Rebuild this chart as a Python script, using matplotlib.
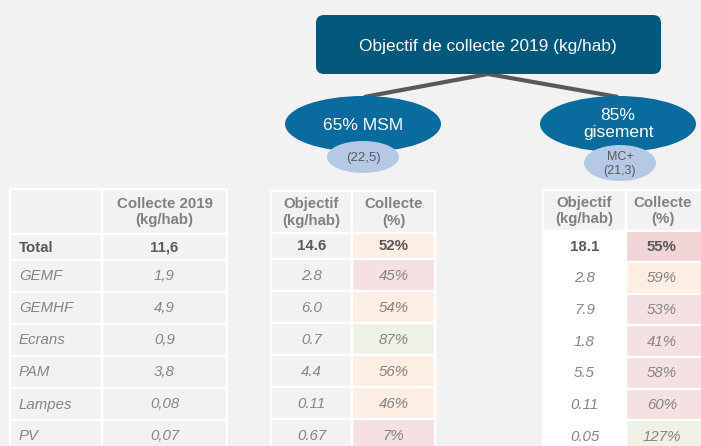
import matplotlib.pyplot as plt
from matplotlib.patches import Rectangle, Ellipse, FancyBboxPatch

# ============================================================
# Data
# ============================================================
categories = ["Total", "GEMF", "GEMHF", "Ecrans", "PAM", "Lampes", "PV"]
collecte_2019 = ["11,6", "1,9", "4,9", "0,9", "3,8", "0,08", "0,07"]

msm_objectif = ["14.6", "2.8", "6.0", "0.7", "4.4", "0.11", "0.67"]
msm_collecte = ["52%", "45%", "54%", "87%", "56%", "46%", "7%"]
msm_status = ["mid", "low", "mid", "ok", "mid", "mid", "low"]

gis_objectif = ["18.1", "2.8", "7.9", "1.8", "5.5", "0.11", "0.05"]
gis_collecte = ["55%", "59%", "53%", "41%", "58%", "60%", "127%"]
gis_status = ["bad", "mid", "low", "low", "low", "low", "ok"]

title = "Objectif de collecte 2019 (kg/hab)"
branch_msm = ("65% MSM", "(22,5)")
branch_gis = ("85%\ngisement", "MC+\n(21,3)")

# ============================================================
# Styles
# ============================================================
bg = "#f2f2f2"
status_colors = {"mid": "#fdeee3", "low": "#f5e1e1", "ok": "#eef2e6", "bad": "#efd5d5"}
txt_bold = "#595959"
txt_body = "#858585"
txt_head = "#808080"
fs = 10.8
plt.rcParams["font.family"] = ["Liberation Sans", "DejaVu Sans"]

fig = plt.figure(figsize=(7.01, 4.46), dpi=100, facecolor=bg)
ax = fig.add_axes([0, 0, 1, 1])
ax.set_xlim(0, 701)
ax.set_ylim(446, 0)
ax.axis("off")


def put_text(x, y, text, bold=False, italic=False, ha="center", color=None):
    ax.text(x, y, text, ha=ha, va="center", fontsize=fs, linespacing=1.2,
            fontweight="bold" if bold else "normal",
            fontstyle="italic" if italic else "normal",
            color=color or (txt_bold if bold else txt_body), zorder=4)


def cell(x0, x1, y0, y1, fc, text=None, bold=False, italic=False, ha="center", color=None):
    ax.add_patch(Rectangle((x0, y0), x1 - x0, y1 - y0, facecolor=fc,
                           edgecolor="white", linewidth=1.6))
    if text is None:
        return
    tx = (x0 + x1) / 2 if ha == "center" else x0 + 9
    put_text(tx, (y0 + y1) / 2 + 0.5, text, bold, italic, ha, color)


def body_rows(y_header_bottom, first_h, h):
    ys = [y_header_bottom, y_header_bottom + first_h]
    for _ in range(len(categories) - 1):
        ys.append(ys[-1] + h)
    return ys


# ---------------- left table ----------------
lx = [10, 102, 227]
ys = body_rows(234, 26, 32)
cell(lx[0], lx[1], 189, 234, bg)
cell(lx[1], lx[2], 189, 234, bg, "Collecte 2019\n(kg/hab)", bold=True, color=txt_head)
for i, (cat, val) in enumerate(zip(categories, collecte_2019)):
    b = i == 0
    cell(lx[0], lx[1], ys[i], ys[i + 1], bg, cat, bold=b, italic=not b, ha="left")
    cell(lx[1], lx[2], ys[i], ys[i + 1], bg, val, bold=b, italic=not b)

# ---------------- middle table ----------------
mx = [271, 352, 435]
ys = body_rows(233, 26, 32)
cell(mx[0], mx[1], 191, 233, bg, "Objectif\n(kg/hab)", bold=True, color=txt_head)
cell(mx[1], mx[2], 191, 233, bg, "Collecte\n(%)", bold=True, color=txt_head)
for i in range(len(categories)):
    b = i == 0
    cell(mx[0], mx[1], ys[i], ys[i + 1], bg, msm_objectif[i], bold=b, italic=not b)
    cell(mx[1], mx[2], ys[i], ys[i + 1], status_colors[msm_status[i]], msm_collecte[i],
         bold=b, italic=not b)

# ---------------- right table ----------------
rx = [543, 626, 712]
ys = body_rows(231, 31, 31.7)
cell(rx[0], rx[1], 190, 231, bg, "Objectif\n(kg/hab)", bold=True, color=txt_head)
ax.add_patch(Rectangle((rx[1], 190), rx[2] - rx[1], 41, facecolor=bg,
                       edgecolor="white", linewidth=1.6))
put_text(663, 211, "Collecte\n(%)", bold=True, color=txt_head)
ax.add_patch(Rectangle((rx[0], ys[0]), rx[1] - rx[0], ys[-1] - ys[0],
                       facecolor="white", edgecolor="white", linewidth=1.6))
for i in range(len(categories)):
    b = i == 0
    yc = (ys[i] + ys[i + 1]) / 2 + 0.5
    put_text((rx[0] + rx[1]) / 2, yc, gis_objectif[i], bold=b, italic=not b)
    ax.add_patch(Rectangle((rx[1], ys[i]), rx[2] - rx[1], ys[i + 1] - ys[i],
                           facecolor=status_colors[gis_status[i]], edgecolor="white",
                           linewidth=1.6))
    put_text(662, yc, gis_collecte[i], bold=b, italic=not b)

# ---------------- tree header ----------------
ax.plot([488, 364], [74, 97], color="#595959", lw=3, solid_capstyle="butt", zorder=2)
ax.plot([488, 618], [74, 97], color="#595959", lw=3, solid_capstyle="butt", zorder=2)

ax.add_patch(FancyBboxPatch((320, 19), 337, 51, boxstyle="round,pad=4,rounding_size=8",
                            facecolor="#03587b", edgecolor="none", zorder=3))
ax.text(488, 46, title, ha="center", va="center", fontsize=12.4, color="white", zorder=4)

for cx, (big, small), sy in [(363, branch_msm, 157), (618, branch_gis, 163)]:
    two = "\n" in small
    ax.add_patch(Ellipse((cx, 124), 156, 56, facecolor="#0a6c9e", edgecolor="none", zorder=3))
    ax.text(cx, 126 if "\n" not in big else 124, big, ha="center", va="center",
            fontsize=12.5, color="white", linespacing=1.2, zorder=6)
    ax.add_patch(Ellipse((cx + (2 if two else 0), sy), 72, 36 if two else 32,
                         facecolor="#b5c8e6", edgecolor="none", zorder=5))
    ax.text(cx + (2 if two else 0), sy + 1, small, ha="center", va="center",
            fontsize=9.5 if not two else 9, color="#595959", linespacing=1.2, zorder=6)

fig.savefig("out.png", dpi=100, facecolor=bg)
